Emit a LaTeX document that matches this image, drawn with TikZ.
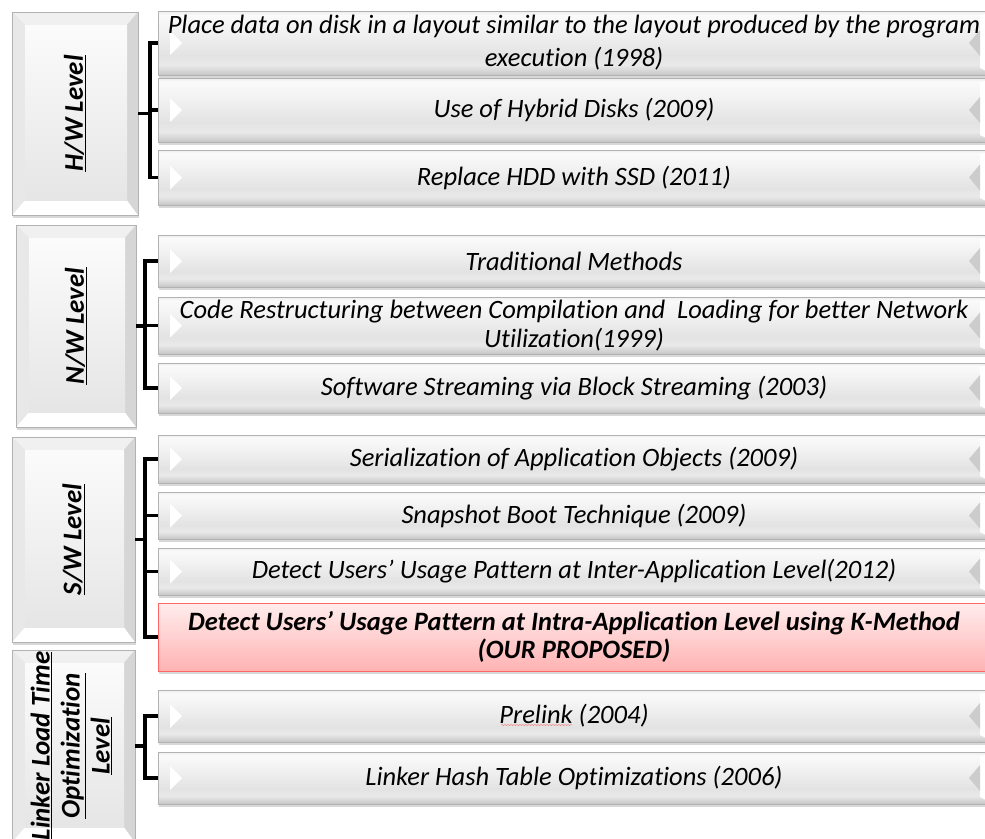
\documentclass[tikz,border=0pt]{standalone}
\usepackage{fontspec}
\setmainfont{Carlito}[Ligatures=NoCommon]
\usetikzlibrary{shadows,decorations.pathmorphing}

% shadings for the boxes
\pgfdeclareverticalshading{itemshade}{100bp}{color(0bp)=(gray!45); color(25bp)=(gray!45); color(29bp)=(gray!30); color(33bp)=(gray!17); color(40bp)=(gray!22); color(60bp)=(gray!10); color(72bp)=(gray!4); color(75bp)=(gray!14); color(100bp)=(gray!14)}
\pgfdeclareverticalshading{redshade}{100bp}{color(0bp)=(red!30); color(25bp)=(red!30); color(75bp)=(red!7); color(100bp)=(red!7)}
\pgfdeclareverticalshading{levelshade}{100bp}{color(0bp)=(gray!20); color(25bp)=(gray!20); color(75bp)=(gray!3); color(100bp)=(gray!3)}

\begin{document}
\begin{tikzpicture}[x=1pt,y=-1pt,
  itembase/.style={draw=gray!60, drop shadow={opacity=0.3,shadow xshift=1pt,shadow yshift=-2.5pt},
    minimum width=832, inner sep=0pt, align=center, font=\fontsize{26.5}{29}\selectfont\itshape},
  itembox/.style={itembase, shading=itemshade,
    path picture={
      \fill[white] ([xshift=12pt,yshift=12pt]path picture bounding box.west) -- ([xshift=24pt]path picture bounding box.west) -- ([xshift=12pt,yshift=-12pt]path picture bounding box.west) -- cycle;
      \fill[white] ([xshift=-10pt,yshift=-4pt]path picture bounding box.north east) -- ([yshift=-2pt]path picture bounding box.north east) -- ([yshift=2pt]path picture bounding box.south east) -- ([xshift=-10pt,yshift=7pt]path picture bounding box.south east) -- cycle;
      \fill[gray!40] ([xshift=-10pt,yshift=13pt]path picture bounding box.east) -- ([xshift=-21pt]path picture bounding box.east) -- ([xshift=-10pt,yshift=-13pt]path picture bounding box.east) -- cycle;
    }},
  ownbox/.style={itembase, draw=red!60, shading=redshade, font=\fontsize{26.5}{28}\selectfont\bfseries\itshape},
  levelbox/.style={draw=gray!60, fill=gray!25, drop shadow={opacity=0.3,shadow xshift=1pt,shadow yshift=-2.5pt},
    inner sep=0pt, font=\fontsize{27}{30}\selectfont\bfseries\itshape,
    path picture={
      \coordinate (pnw) at (path picture bounding box.north west);
      \coordinate (pne) at (path picture bounding box.north east);
      \coordinate (psw) at (path picture bounding box.south west);
      \coordinate (pse) at (path picture bounding box.south east);
      \coordinate (qnw) at ([xshift=13pt,yshift=-13pt]pnw);
      \coordinate (qne) at ([xshift=-11pt,yshift=-13pt]pne);
      \coordinate (qsw) at ([xshift=13pt,yshift=15pt]psw);
      \coordinate (qse) at ([xshift=-11pt,yshift=15pt]pse);
      \fill[gray!12] (pnw) -- (pne) -- (qne) -- (qnw) -- cycle;
      \fill[white] (psw) -- (pse) -- (qse) -- (qsw) -- cycle;
      \fill[gray!18] (pnw) -- (qnw) -- (qsw) -- (psw) -- cycle;
      \fill[gray!32] (pne) -- (qne) -- (qse) -- (pse) -- cycle;
      \shade[shading=levelshade] (qnw) rectangle (qse);
    }},
  bracket/.style={line width=3.5pt, black}]

\useasboundingbox (0,0) rectangle (985,838);
\fill[white] (0,0) rectangle (985,838);
\clip (0,0) rectangle (985,838);

% levels
\node[levelbox, minimum width=126, minimum height=203] (hw) at (75,113.5) {\rotatebox{90}{\underline{H/W Level}}};
\node[levelbox, minimum width=120, minimum height=202] (nw) at (76,326) {\rotatebox{90}{\underline{N/W Level}}};
\node[levelbox, minimum width=123, minimum height=205] (sw) at (73.5,539.5) {\rotatebox{90}{\underline{S/W Level}}};
\node[levelbox, minimum width=123, minimum height=192] (li) at (73.5,746) {\rotatebox{90}{\begin{tabular}{@{}c@{}}\underline{Linker Load Time}\\ \underline{Optimization}\\ \underline{Level}\end{tabular}}};

% H/W items
\node[itembox, minimum height=64, font=\fontsize{26.5}{33}\selectfont\itshape] (hw1) at (574,43) {Place data on disk in a layout similar to the layout produced by the program\\ execution (1998)};
\node[itembox, minimum height=64] (hw2) at (574,110) {Use of Hybrid Disks (2009)};
\node[itembox, minimum height=55] (hw3) at (574,177.5) {Replace HDD with SSD (2011)};

% N/W items
\node[itembox, minimum height=52] (nw1) at (574,261) {Traditional Methods};
\node[itembox, minimum height=57] (nw2) at (574,325.5) {Code Restructuring between Compilation and\ \ Loading for better Network\\ Utilization(1999)};
\node[itembox, minimum height=50] (nw3) at (574,388) {Software Streaming via Block Streaming (2003)};

% S/W items
\node[itembox, minimum height=48] (sw1) at (574,459) {Serialization of Application Objects (2009)};
\node[itembox, minimum height=47] (sw2) at (574,515.5) {Snapshot Boot Technique (2009)};
\node[itembox, minimum height=47] (sw3) at (574,571.5) {Detect Users’ Usage Pattern at Inter-Application Level(2012)};
\node[ownbox, minimum height=68] (sw4) at (574,637) {Detect Users’ Usage Pattern at Intra-Application Level using K-Method\\ (OUR PROPOSED)};

% linker items
\node[itembox, minimum height=52] (li1) at (574,716) {Prelink (2004)};
\node[itembox, minimum height=52] (li2) at (574,778) {Linker Hash Table Optimizations (2006)};
\draw[red!60, thin, decorate, decoration={snake, amplitude=0.5pt, segment length=3pt}] ([xshift=-73pt,yshift=-9pt]li1.center) -- ([xshift=-2pt,yshift=-9pt]li1.center);

% brackets
\coordinate (hwb) at ([xshift=12pt]hw.east);
\draw[bracket] (hw.east) -- (hwb);
\draw[bracket] (hw1.west) -- (hw1.west -| hwb) -- (hw3.west -| hwb) -- (hw3.west);
\draw[bracket] (hw2.west -| hwb) -- (hw2.west);

\coordinate (nwb) at ([xshift=9pt]nw.east);
\draw[bracket] (nw.east) -- (nwb);
\draw[bracket] (nw1.west) -- (nw1.west -| nwb) -- (nw3.west -| nwb) -- (nw3.west);
\draw[bracket] (nw2.west -| nwb) -- (nw2.west);

\coordinate (swb) at ([xshift=10pt]sw.east);
\draw[bracket] (sw.east) -- (swb);
\draw[bracket] (sw1.west) -- (sw1.west -| swb) -- (sw4.west -| swb) -- (sw4.west);
\foreach \n in {sw2,sw3}
  \draw[bracket] (\n.west -| swb) -- (\n.west);

\coordinate (lib) at ([xshift=10pt]li.east);
\draw[bracket] (li.east) -- (lib);
\draw[bracket] (li1.west) -- (li1.west -| lib) -- (li2.west -| lib) -- (li2.west);

\end{tikzpicture}
\end{document}
